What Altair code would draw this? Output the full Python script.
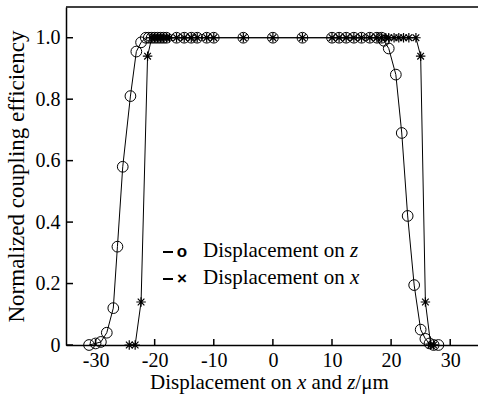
import altair as alt
import pandas as pd

# ---- data ----
z_pos = [-31.1, -30.0, -29.1, -28.1, -27.0, -26.3, -25.4, -24.1, -23.1, -22.3, -21.5,
         -21.0, -20.5, -20.0, -19.5, -19.0, -18.5, -18.0, -16.3, -15.0, -13.8, -12.8,
         -11.2, -10.0, -5.0, 0.0, 5.0, 10.0, 11.2, 12.4, 13.7, 15.0, 16.4, 17.6, 18.4,
         18.8, 19.6, 20.8, 21.8, 22.8, 23.9, 25.0, 25.8, 26.5, 27.2, 28.0]
z_eff = [0.0, 0.005, 0.01, 0.04, 0.12, 0.32, 0.58, 0.81, 0.955, 0.985, 1.0,
         1.0, 1.0, 1.0, 1.0, 1.0, 1.0, 1.0, 1.0, 1.0, 1.0, 1.0,
         1.0, 1.0, 1.0, 1.0, 1.0, 1.0, 1.0, 1.0, 1.0, 1.0, 1.0, 1.0, 1.0,
         0.99, 0.965, 0.88, 0.69, 0.42, 0.195, 0.05, 0.02, 0.005, 0.0, 0.0]

x_pos = [-24.3, -23.3, -22.3, -21.2, -20.5, -20.0, -19.5, -19.0, -18.5, -18.0, -17.5,
         -16.3, -15.0, -13.8, -12.8, -11.2, -10.0, -5.0, 0.0, 5.0, 10.0, 11.2, 12.4,
         13.7, 15.0, 16.4, 17.6, 18.4, 19.1, 19.6, 20.5, 21.3, 22.1, 23.0, 24.2,
         25.0, 25.8, 26.7, 27.2]
x_eff = [0.0, 0.0, 0.14, 0.94, 1.0, 1.0, 1.0, 1.0, 1.0, 1.0, 1.0,
         1.0, 1.0, 1.0, 1.0, 1.0, 1.0, 1.0, 1.0, 1.0, 1.0, 1.0, 1.0,
         1.0, 1.0, 1.0, 1.0, 1.0, 1.0, 1.0, 1.0, 1.0, 1.0, 1.0, 1.0,
         0.94, 0.14, 0.0, 0.0]

x_ticks = [-30, -20, -10, 0, 10, 20, 30]
y_ticks = [0, 0.2, 0.4, 0.6, 0.8, 1.0]

legend_text = ["Displacement on", "Displacement on"]
legend_var = ["z", "x"]
legend_sym = ["o", "\u00d7"]
xtitle_parts = ["Displacement on", "x", "and", "z", "/\u03bcm"]
xtitle_italic = [False, True, False, True, False]
xtitle_start_em = [0.0, 6.999, 7.693, 9.387, 9.776]  # Times em offsets
xtitle_total_em = 11.332
ytitle = "Normalized coupling efficiency"

# ---- layout ----
W, H = 412, 338
SERIF = "Liberation Serif, Times New Roman, serif"
FS = 20
TFS = 21

dz = pd.DataFrame({"d": z_pos, "eff": z_eff, "series": "z"})
dx = pd.DataFrame({"d": x_pos, "eff": x_eff, "series": "x"})
df = pd.concat([dz, dx], ignore_index=True)

xs = alt.Scale(domain=[-35, 34.7], nice=False, zero=False)
ys = alt.Scale(domain=[0, 1.1], nice=False, zero=False)

X = alt.X("d:Q", scale=xs, axis=alt.Axis(
    values=x_ticks, ticks=False, grid=False, title=None,
    domainColor="black", domainWidth=1.5,
    labelFont=SERIF, labelFontSize=FS, labelColor="black", labelPadding=5,
    labelExpr="datum.value < 0 ? '-' + abs(datum.value) : '' + datum.value"))
Y = alt.Y("eff:Q", scale=ys, axis=alt.Axis(
    values=y_ticks, ticks=False, grid=False,
    domainColor="black", domainWidth=1.5,
    labelFont=SERIF, labelFontSize=FS, labelColor="black", labelPadding=6,
    labelExpr="datum.value == 0 ? '0' : format(datum.value, '.1f')",
    title=ytitle, titleFont=SERIF, titleFontSize=23, titleFontWeight="normal",
    titleColor="black", titleX=-50, titleY=H / 2, titleAngle=270,
    titleAlign="center", titleBaseline="middle"))

lines = alt.Chart(df).mark_line(color="black", strokeWidth=1).encode(
    x=X, y=Y, detail="series:N", order="d:Q")

pts_z = alt.Chart(dz).mark_point(shape="circle", filled=False, color="black",
                                 size=115, strokeWidth=1, opacity=1).encode(x=X, y=Y)
ASTER = "M-1,0L1,0M0,-1L0,1M-0.7,-0.7L0.7,0.7M-0.7,0.7L0.7,-0.7"
pts_x = alt.Chart(dx).mark_point(shape=ASTER, filled=False, color="black",
                                 size=90, strokeWidth=1.2, opacity=1).encode(x=X, y=Y)

# inward ticks
tx = alt.Chart(pd.DataFrame({"d": x_ticks})).mark_rule(color="black", strokeWidth=1.5).encode(
    x=X, y=alt.value(H), y2=alt.value(H - 6))
ty = alt.Chart(pd.DataFrame({"eff": y_ticks})).mark_rule(color="black", strokeWidth=1.5).encode(
    y=Y, x=alt.value(0), x2=alt.value(7))
top = alt.Chart(pd.DataFrame({"a": [0]})).mark_rule(color="black", strokeWidth=1.5).encode(
    x=alt.value(0), x2=alt.value(W), y=alt.value(0))

# legend
layers = [lines, pts_z, pts_x, tx, ty, top]
row_y = [245, 272]
for i in range(2):
    layers.append(alt.Chart(pd.DataFrame({"a": [0]})).mark_rule(color="black", strokeWidth=2).encode(
        x=alt.value(97), x2=alt.value(107), y=alt.value(row_y[i])))
    layers.append(alt.Chart(pd.DataFrame({"t": [legend_sym[i]]})).mark_text(
        font="Liberation Sans", fontSize=17, fontWeight="bold", color="black",
        align="center", baseline="middle").encode(
        text="t:N", x=alt.value(116), y=alt.value(row_y[i])))
    layers.append(alt.Chart(pd.DataFrame({"t": [legend_text[i]]})).mark_text(
        font=SERIF, fontSize=TFS, color="black", align="left", baseline="alphabetic").encode(
        text="t:N", x=alt.value(137), y=alt.value(row_y[i] + 5)))
    layers.append(alt.Chart(pd.DataFrame({"t": [legend_var[i]]})).mark_text(
        font=SERIF, fontSize=TFS, fontStyle="italic", color="black", align="left",
        baseline="alphabetic").encode(
        text="t:N", x=alt.value(137 + 6.999 * TFS), y=alt.value(row_y[i] + 5)))

# x title built from pieces (italic variables)
x_left = 269 - 66 - xtitle_total_em * TFS / 2
for part, it, em in zip(xtitle_parts, xtitle_italic, xtitle_start_em):
    kw = dict(font=SERIF, fontSize=TFS, color="black", align="left", baseline="alphabetic")
    if it:
        kw["fontStyle"] = "italic"
    layers.append(alt.Chart(pd.DataFrame({"t": [part]})).mark_text(**kw).encode(
        text="t:N", x=alt.value(x_left + em * TFS), y=alt.value(H + 44)))

chart = alt.layer(*layers).properties(
    width=W, height=H,
    autosize=alt.AutoSizeParams(type="none"),
    padding={"left": 66, "top": 7, "right": 0, "bottom": 54},
    background="white",
).configure_view(stroke=None)

chart.save("out.html", embed_options={"renderer": "svg", "actions": False})
